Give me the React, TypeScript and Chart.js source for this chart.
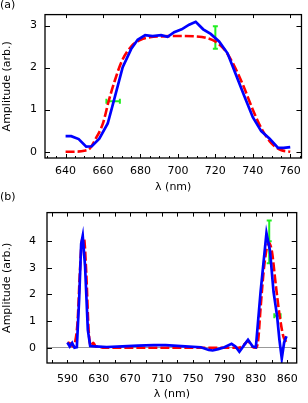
import React, { useEffect, useRef } from 'react';
import { Chart, registerables } from 'chart.js';

Chart.register(...registerables);

const FONT = 'DejaVu Sans';

// ---------- Panel (a) ----------
const A_BLUE_X = [640, 643, 647, 651, 654, 658, 662.5, 666, 670.5, 675, 678.5, 682.5, 686.5, 691, 694.5, 698, 702, 706, 709.5, 713.5, 717.5, 722, 726.5, 731, 735.5, 740, 744.5, 749, 753.5, 756.5, 760];
const A_BLUE_Y = [0.37, 0.37, 0.3, 0.12, 0.13, 0.31, 0.67, 1.25, 2.01, 2.44, 2.66, 2.77, 2.75, 2.77, 2.73, 2.84, 2.91, 3.02, 3.09, 2.91, 2.8, 2.62, 2.34, 1.83, 1.32, 0.82, 0.49, 0.31, 0.09, 0.09, 0.11];
const A_FIT_X = [640, 645, 650, 653, 656, 660, 663, 666, 670, 675, 680, 685, 690, 700, 710, 715, 720, 725, 730, 735, 740, 745, 750, 755, 760];
const A_FIT_Y = [0, 0, 0.02, 0.08, 0.3, 0.68, 1.2, 1.65, 2.15, 2.5, 2.66, 2.72, 2.74, 2.75, 2.74, 2.71, 2.62, 2.42, 2.05, 1.56, 1.0, 0.52, 0.2, 0.04, 0];
const A_ERRV_X = [720, 720];
const A_ERRV_Y = [2.45, 2.98];
const A_ERRH_X = [661.8, 669];
const A_ERRH_Y = [1.2, 1.2];
const A_X_TICKS = [640, 660, 680, 700, 720, 740, 760];
const A_X_LABELS = ['640', '660', '680', '700', '720', '740', '760'];
const A_Y_TICKS = [0, 1, 2, 3];

// ---------- Panel (b) ----------
const B_BLUE_X = [590, 593, 596, 599, 602, 605, 607.5, 609.5, 612.5, 616, 619, 625, 640, 660, 680, 700, 715, 725, 740, 760, 770, 775, 782, 790, 799, 804, 809, 815, 820, 826, 830, 836, 843.5, 848, 852.5, 857, 860, 863, 866, 869];
const B_BLUE_Y = [0.2, 0.05, 0.18, 0.0, 0.02, 1.86, 3.9, 4.2, 3.05, 0.67, 0.07, 0.05, 0.03, 0.05, 0.08, 0.1, 0.1, 0.08, 0.05, 0.02, -0.08, -0.1, -0.05, 0.02, 0.15, 0.05, -0.15, 0.1, 0.3, 0.05, 0.02, 2.1, 4.3, 3.64, 2.1, 1.2, 0.3, -0.4, 0.2, 0.43];
const B_FIT_X = [590, 594, 597, 600, 603, 606, 609, 611, 614, 617, 620, 623, 626, 630, 635, 700, 800, 808, 815, 820, 825, 830, 833, 836, 841, 846.5, 850.5, 855, 860, 865, 869];
const B_FIT_Y = [0.2, 0.15, 0.05, 0.25, 1.0, 2.9, 4.12, 4.12, 2.8, 0.67, 0.07, 0.19, 0.05, 0.05, 0, 0, 0, 0, 0.12, 0.25, 0.05, 0, 0.3, 1.5, 3.17, 3.94, 3.6, 2.45, 1.26, 0.43, 0.2];
const B_ERRV_X = [847, 847, 847];
const B_ERRV_Y = [3.17, 4.0, 4.77];
const B_ERRH_X = [853.5, 861.5];
const B_ERRH_Y = [1.2, 1.2];
const B_X_TICKS = [590, 630, 670, 710, 750, 790, 830, 870];
const B_X_LABELS = ['590', '630', '670', '710', '750', '790', '830', '860'];
const B_Y_TICKS = [0, 1, 2, 3, 4];

const pts = (xs: number[], ys: number[]) => xs.map((x, i) => ({ x, y: ys[i] }));
const range = (a: number, b: number, s: number) => {
  const out: number[] = [];
  for (let v = a; v <= b + 1e-9; v += s) out.push(v);
  return out;
};

const frameTicks = {
  id: 'frameTicks',
  afterDraw(chart: any, _args: any, opts: any) {
    const { ctx, chartArea: ca } = chart;
    const xs = chart.scales.x;
    const ys = chart.scales.y;
    ctx.save();
    ctx.strokeStyle = '#000';
    ctx.lineWidth = 1;
    ctx.beginPath();
    const vx = (v: number) => Math.round(xs.getPixelForValue(v)) + 0.5;
    const vy = (v: number) => Math.round(ys.getPixelForValue(v)) + 0.5;
    for (const v of opts.xBottom) {
      if (v < xs.min || v > xs.max) continue;
      ctx.moveTo(vx(v), ca.bottom);
      ctx.lineTo(vx(v), ca.bottom - opts.xBottomLen);
    }
    for (const v of opts.xBottomMinor || []) {
      if (v < xs.min || v > xs.max) continue;
      ctx.moveTo(vx(v), ca.bottom);
      ctx.lineTo(vx(v), ca.bottom - opts.minorLen);
    }
    for (const v of opts.xTop) {
      if (v < xs.min || v > xs.max) continue;
      ctx.moveTo(vx(v), ca.top);
      ctx.lineTo(vx(v), ca.top + opts.xTopLen);
    }
    for (const v of opts.yTicks) {
      ctx.moveTo(ca.left, vy(v));
      ctx.lineTo(ca.left + opts.yLen, vy(v));
      ctx.moveTo(ca.right, vy(v));
      ctx.lineTo(ca.right - opts.yLen, vy(v));
    }
    ctx.stroke();
    ctx.lineWidth = 1.3;
    ctx.strokeRect(ca.left, ca.top, ca.right - ca.left, ca.bottom - ca.top);
    ctx.restore();
  },
};

function makeConfig(p: any) {
  const green = '#22ee22';
  return {
    type: 'line',
    data: {
      datasets: [
        {
          data: p.blue,
          borderColor: '#0000ff',
          borderWidth: 2.7,
          pointRadius: 0,
          tension: 0,
        },
        {
          data: p.fit,
          borderColor: '#ff0000',
          borderWidth: 2.6,
          borderDash: [9, 3],
          pointRadius: 0,
          cubicInterpolationMode: 'monotone',
        },
        {
          data: p.errV,
          borderColor: green,
          borderWidth: 2,
          pointStyle: 'line',
          pointRadius: 2.5,
          pointBorderWidth: 2,
          pointBorderColor: green,
          pointRotation: 0,
        },
        {
          data: p.errH,
          borderColor: green,
          borderWidth: 2,
          pointStyle: 'line',
          pointRadius: 2.5,
          pointBorderWidth: 2,
          pointBorderColor: green,
          pointRotation: 90,
        },
      ],
    },
    options: {
      responsive: false,
      animation: false,
      layout: { padding: p.padding },
      plugins: {
        legend: { display: false },
        tooltip: { enabled: false },
        frameTicks: p.frame,
      },
      scales: {
        x: {
          type: 'linear',
          min: p.xMin,
          max: p.xMax,
          afterBuildTicks: (s: any) => {
            s.ticks = p.xTicks.map((v: number) => ({ value: v }));
          },
          afterFit: (s: any) => {
            s.height = p.xHeight;
          },
          grid: { display: false, drawTicks: false },
          border: { display: false },
          ticks: {
            autoSkip: false,
            maxRotation: 0,
            padding: p.xPad,
            color: '#000',
            font: { family: FONT, size: 11 },
            callback: (v: number) => {
              const i = p.xTicks.indexOf(v);
              return i >= 0 ? p.xLabels[i] : '';
            },
          },
          title: {
            display: true,
            text: 'λ (nm)',
            color: '#000',
            font: { family: FONT, size: 11 },
            padding: { top: 0, bottom: p.titlePad },
          },
        },
        y: {
          type: 'linear',
          min: p.yMin,
          max: p.yMax,
          afterBuildTicks: (s: any) => {
            s.ticks = p.yTicks.map((v: number) => ({ value: v }));
          },
          afterFit: (s: any) => {
            s.width = p.yWidth;
          },
          grid: {
            display: p.zeroLine,
            drawTicks: false,
            lineWidth: 1,
            color: (c: any) => (c.tick && c.tick.value === 0 ? '#999999' : 'rgba(0,0,0,0)'),
          },
          border: { display: false },
          ticks: {
            padding: p.yPad,
            color: '#000',
            font: { family: FONT, size: 11 },
            callback: (v: number) => String(v),
          },
          title: {
            display: true,
            text: 'Amplitude (arb.)',
            color: '#000',
            font: { family: FONT, size: 11 },
            padding: { top: 1, bottom: 0 },
          },
        },
      },
    },
    plugins: [frameTicks],
  };
}

const PANEL_A = {
  blue: pts(A_BLUE_X, A_BLUE_Y),
  fit: pts(A_FIT_X, A_FIT_Y),
  errV: pts(A_ERRV_X, A_ERRV_Y),
  errH: pts(A_ERRH_X, A_ERRH_Y),
  xMin: 629,
  xMax: 766,
  yMin: -0.15,
  yMax: 3.26,
  xTicks: A_X_TICKS,
  xLabels: A_X_LABELS,
  yTicks: A_Y_TICKS,
  padding: { top: 1, right: 6, left: 0, bottom: 0 },
  xHeight: 37,
  yWidth: 45,
  xPad: 7,
  yPad: 8,
  titlePad: 1,
  zeroLine: false,
  frame: {
    xBottom: A_X_TICKS,
    xBottomLen: 4,
    xBottomMinor: range(630, 765, 5),
    minorLen: 2,
    xTop: A_X_TICKS,
    xTopLen: 3.5,
    yTicks: A_Y_TICKS,
    yLen: 5,
  },
};

const PANEL_B = {
  blue: pts(B_BLUE_X, B_BLUE_Y),
  fit: pts(B_FIT_X, B_FIT_Y),
  errV: pts(B_ERRV_X, B_ERRV_Y),
  errH: pts(B_ERRH_X, B_ERRH_Y),
  xMin: 564,
  xMax: 882,
  yMin: -0.57,
  yMax: 5.07,
  xTicks: B_X_TICKS,
  xLabels: B_X_LABELS,
  yTicks: B_Y_TICKS,
  padding: { top: 10, right: 3, left: 0, bottom: 0 },
  xHeight: 40,
  yWidth: 47,
  xPad: 10,
  yPad: 11,
  titlePad: 2,
  zeroLine: true,
  frame: {
    xBottom: range(570, 870, 20),
    xBottomLen: 3,
    xBottomMinor: [],
    minorLen: 2,
    xTop: range(570, 870, 20),
    xTopLen: 4,
    yTicks: B_Y_TICKS,
    yLen: 5,
  },
};

export default function App() {
  const refA = useRef<HTMLCanvasElement | null>(null);
  const refB = useRef<HTMLCanvasElement | null>(null);

  useEffect(() => {
    Chart.defaults.font.family = FONT;
    const a = new Chart(refA.current as any, makeConfig(PANEL_A) as any);
    const b = new Chart(refB.current as any, makeConfig(PANEL_B) as any);
    return () => {
      a.destroy();
      b.destroy();
    };
  }, []);

  const label: React.CSSProperties = {
    position: 'absolute',
    left: 0,
    fontFamily: FONT,
    fontSize: 11,
    lineHeight: '13px',
    color: '#000',
  };

  return (
    <div style={{ position: 'absolute', left: 0, top: 0, width: 308, height: 403, background: '#fff', overflow: 'hidden' }}>
      <canvas ref={refA} width={308} height={195} style={{ position: 'absolute', left: 0, top: 0, width: 308, height: 195 }} />
      <canvas ref={refB} width={308} height={208} style={{ position: 'absolute', left: 0, top: 195, width: 308, height: 208 }} />
      <div style={{ ...label, top: -2 }}>(a)</div>
      <div style={{ ...label, top: 190 }}>(b)</div>
    </div>
  );
}
